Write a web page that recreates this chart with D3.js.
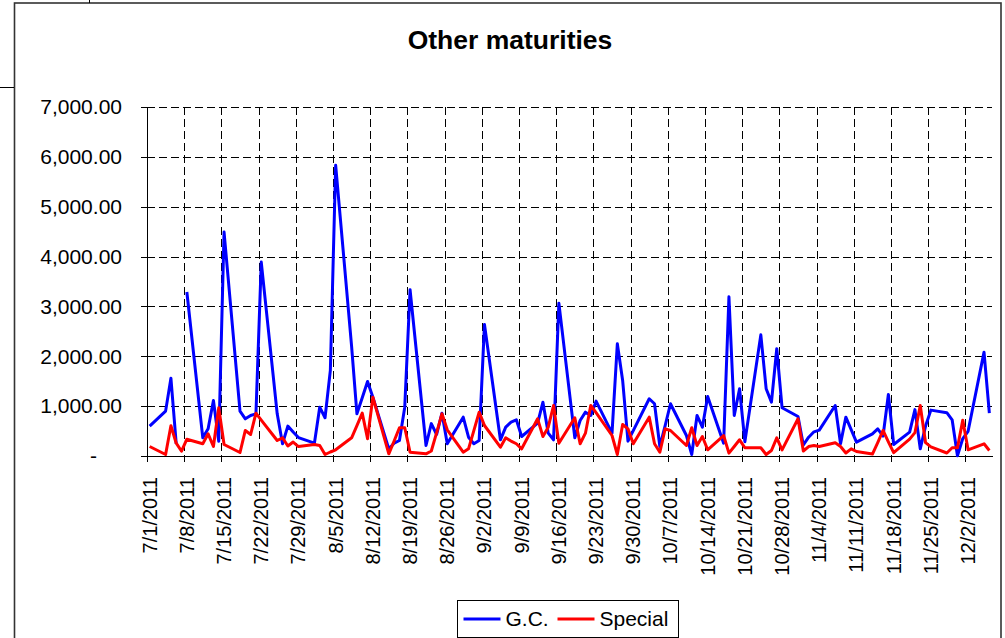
<!DOCTYPE html>
<html>
<head>
<meta charset="utf-8">
<script src="https://cdn.jsdelivr.net/npm/d3@7"></script>
<style>
  body { margin: 0; background: #fff; }
  svg text { font-family: "Liberation Sans", Arial, sans-serif; fill: #000; }
  .grid line { stroke: #000; stroke-width: 1; stroke-dasharray: 8,4; shape-rendering: crispEdges; }
  .axis path, .axis line { stroke: #000; shape-rendering: crispEdges; }
</style>
</head>
<body>
<div id="chart"></div>
<script>
// 1: DATA
const dates = [
  "2011-07-01","2011-07-04","2011-07-05","2011-07-06","2011-07-07","2011-07-08",
  "2011-07-11","2011-07-12","2011-07-13","2011-07-14","2011-07-15",
  "2011-07-18","2011-07-19","2011-07-20","2011-07-21","2011-07-22",
  "2011-07-25","2011-07-26","2011-07-27","2011-07-28","2011-07-29",
  "2011-08-01","2011-08-02","2011-08-03","2011-08-04","2011-08-05",
  "2011-08-08","2011-08-09","2011-08-10","2011-08-11","2011-08-12",
  "2011-08-15","2011-08-16","2011-08-17","2011-08-18","2011-08-19",
  "2011-08-22","2011-08-23","2011-08-24","2011-08-25","2011-08-26",
  "2011-08-29","2011-08-30","2011-08-31","2011-09-01","2011-09-02",
  "2011-09-05","2011-09-06","2011-09-07","2011-09-08","2011-09-09",
  "2011-09-12","2011-09-13","2011-09-14","2011-09-15","2011-09-16",
  "2011-09-19","2011-09-20","2011-09-21","2011-09-22","2011-09-23",
  "2011-09-26","2011-09-27","2011-09-28","2011-09-29","2011-09-30",
  "2011-10-03","2011-10-04","2011-10-05","2011-10-06","2011-10-07",
  "2011-10-10","2011-10-11","2011-10-12","2011-10-13","2011-10-14",
  "2011-10-17","2011-10-18","2011-10-19","2011-10-20","2011-10-21",
  "2011-10-24","2011-10-25","2011-10-26","2011-10-27","2011-10-28",
  "2011-10-31","2011-11-01","2011-11-02","2011-11-03","2011-11-04",
  "2011-11-07","2011-11-08","2011-11-09","2011-11-10","2011-11-11",
  "2011-11-14","2011-11-15","2011-11-16","2011-11-17","2011-11-18",
  "2011-11-21","2011-11-22","2011-11-23","2011-11-24","2011-11-25",
  "2011-11-28","2011-11-29","2011-11-30","2011-12-01","2011-12-02",
  "2011-12-05","2011-12-06"
];

const gcValues = [
  600, 900, 1560, 245, null, 3290,
  365, 545, 1114, 297, 4491,
  899, 746, 813, 846, 3889,
  846, 245, 600, 480, 370,
  257, 979, 767, 1716, 5830,
  2200, 847, 1170, 1495, 1180,
  144, 257, 311, 979, 3335,
  211, 650, 431, 859, 245,
  779, 377, 245, 311, 2639,
  325, 578, 680, 726, 391,
  658, 1080, 458, 325, 3066,
  365, 712, 879, 813, 1100,
  458, 2252, 1515, 297, 510,
  1148, 1048, 191, 610, 1048,
  411, 30, 813, 578, 1194,
  257, 3195, 813, 1349, 287,
  2430, 1350, 1080, 2151, 967,
  793, 221, 377, 485, 520,
  1013, 245, 779, 528, 277,
  445, 545, 400, 1234, 231,
  478, 930, 144, 600, 920,
  869, 726, 5, 350, 495,
  2083, 859
];

const specialValues = [
  190, 30, 606, 257, 96, 337,
  245, 445, 191, 967, 231,
  70, 512, 431, 859, 720,
  311, 365, 200, 280, 190,
  231, 211, 30, 80, 124,
  365, 610, 859, 345, 1180,
  44, 300, 566, 566, 76,
  44, 100, 470, 846, 526,
  76, 144, 510, 879, 612,
  177, 365, 300, 245, 144,
  746, 391, 578, 1013, 257,
  767, 245, 458, 1014, 870,
  411, 30, 632, 545, 245,
  779, 245, 76, 545, 512,
  211, 566, 211, 391, 124,
  411, 57, 190, 325, 165,
  165, 30, 110, 365, 124,
  746, 100, 190, 211, 191,
  267, 191, 60, 144, 90,
  40, 270, 512, 285, 66,
  338, 468, 1013, 267, 184,
  60, 165, 165, 719, 124,
  245, 110
];

const seriesNames = ["G.C.", "Special"];
const seriesColors = ["#0000FF", "#FF0000"];
const yTicks = [0, 1000, 2000, 3000, 4000, 5000, 6000, 7000];
const xTickDates = [
  "2011-07-01","2011-07-08","2011-07-15","2011-07-22","2011-07-29",
  "2011-08-05","2011-08-12","2011-08-19","2011-08-26","2011-09-02",
  "2011-09-09","2011-09-16","2011-09-23","2011-09-30","2011-10-07",
  "2011-10-14","2011-10-21","2011-10-28","2011-11-04","2011-11-11",
  "2011-11-18","2011-11-25","2011-12-02"
];

// 2: SET GLOBAL VARIABLES
const W = 1005, H = 638;
const margin = { top: 107, right: 13, bottom: 182, left: 147 };
const width = W - margin.left - margin.right;
const height = H - margin.top - margin.bottom;

const parse = d3.timeParse("%Y-%m-%d");
const fmtLabel = d => `${d.getMonth() + 1}/${d.getDate()}/${d.getFullYear()}`;
const mid = d => d3.timeHour.offset(d, 12);

const svgRoot = d3.select("#chart").append("svg")
    .attr("width", W)
    .attr("height", H);

// chart area border + stray cell borders
svgRoot.append("rect")
    .attr("x", 14.5).attr("y", 3)
    .attr("width", 986.5).attr("height", 660)
    .attr("fill", "none").attr("stroke", "#333").attr("stroke-width", 1.6);
svgRoot.append("line").attr("x1", 89.5).attr("x2", 89.5).attr("y1", 0).attr("y2", 3)
    .attr("stroke", "#000");
svgRoot.append("line").attr("x1", 0).attr("x2", 14).attr("y1", 87.5).attr("y2", 87.5)
    .attr("stroke", "#000");

const svg = svgRoot.append("g")
    .attr("transform", `translate(${margin.left},${margin.top})`);

// 3: SCALES
const x = d3.scaleTime()
    .domain([parse("2011-07-01"), parse("2011-12-07")])
    .range([0, width]);

const y = d3.scaleLinear()
    .domain([0, 7000])
    .range([height, 0]);

const weekDates = xTickDates.map(parse);

// 4: GRIDLINES
svg.append("g").attr("class", "grid")
    .selectAll("line")
    .data(yTicks.filter(t => t > 0))
    .join("line")
    .attr("x1", 0).attr("x2", width)
    .attr("y1", d => Math.round(y(d)) + 0.5)
    .attr("y2", d => Math.round(y(d)) + 0.5);

svg.append("g").attr("class", "grid")
    .selectAll("line")
    .data(weekDates.slice(1))
    .join("line")
    .attr("x1", d => Math.round(x(d)) + 0.5)
    .attr("x2", d => Math.round(x(d)) + 0.5)
    .attr("y1", 0).attr("y2", height);

// 5: AXES
const yAxis = svg.append("g")
    .attr("class", "axis")
    .call(d3.axisLeft(y)
        .tickValues(yTicks)
        .tickSizeInner(6)
        .tickSizeOuter(0)
        .tickPadding(19)
        .tickFormat(d => d === 0 ? "-" : d3.format(",.2f")(d)));
yAxis.selectAll("text")
    .style("font-size", "21px")
    .attr("dx", d => d === 0 ? "-25px" : 0);

const xAxis = svg.append("g")
    .attr("class", "axis")
    .attr("transform", `translate(0,${height})`)
    .call(d3.axisBottom(x)
        .tickValues(weekDates)
        .tickSizeInner(6)
        .tickSizeOuter(0)
        .tickFormat(""));

svg.append("g")
    .selectAll("text")
    .data(weekDates)
    .join("text")
    .attr("transform", d => `translate(${x(mid(d))},${height + 21}) rotate(-90)`)
    .attr("text-anchor", "end")
    .attr("dy", "0.35em")
    .style("font-size", "20px")
    .text(fmtLabel);

// 6: PLOT DATA
const rows = dates.map((d, i) => ({ date: parse(d), gc: gcValues[i], sp: specialValues[i] }));

const lineFor = key => d3.line()
    .defined(d => d[key] != null)
    .x(d => x(mid(d.date)))
    .y(d => y(d[key]));

svg.append("path")
    .datum(rows)
    .attr("d", lineFor("gc"))
    .attr("fill", "none")
    .attr("stroke", seriesColors[0])
    .attr("stroke-width", 3)
    .attr("stroke-linejoin", "round");

svg.append("path")
    .datum(rows)
    .attr("d", lineFor("sp"))
    .attr("fill", "none")
    .attr("stroke", seriesColors[1])
    .attr("stroke-width", 3)
    .attr("stroke-linejoin", "round");

// 7: TITLE
svgRoot.append("text")
    .attr("x", 510)
    .attr("y", 49)
    .attr("text-anchor", "middle")
    .style("font-size", "26.5px")
    .style("font-weight", "bold")
    .text("Other maturities");

// 8: LEGEND
const legend = svgRoot.append("g").attr("transform", "translate(457.5,600.5)");
legend.append("rect")
    .attr("width", 221).attr("height", 37)
    .attr("fill", "#fff").attr("stroke", "#000");

const legendX = [6, 100];
seriesNames.forEach((name, i) => {
    legend.append("line")
        .attr("x1", legendX[i]).attr("x2", legendX[i] + 37)
        .attr("y1", 18.5).attr("y2", 18.5)
        .attr("stroke", seriesColors[i]).attr("stroke-width", 3);
    legend.append("text")
        .attr("x", legendX[i] + 42)
        .attr("y", 18.5)
        .attr("dy", "0.35em")
        .style("font-size", "21px")
        .text(name);
});
</script>
</body>
</html>
